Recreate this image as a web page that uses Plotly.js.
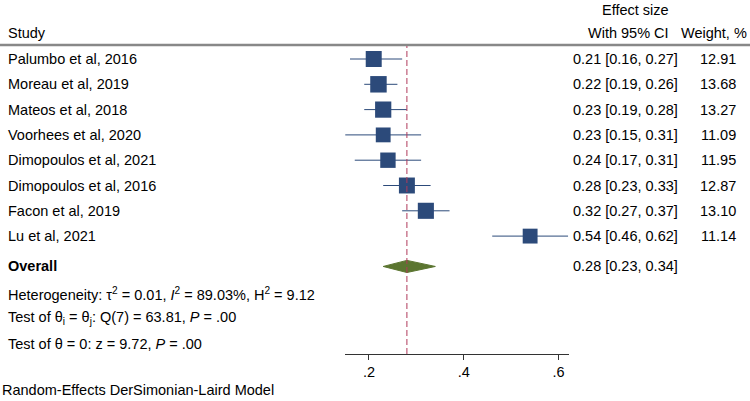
<!DOCTYPE html>
<html>
<head>
<meta charset="utf-8">
<script src="https://cdn.plot.ly/plotly-3.0.1.min.js"></script>
<style>html,body{margin:0;padding:0;background:#fff;}#chart{width:750px;height:401px;}</style>
</head>
<body>
<div id="chart"></div>
<script>
// ---- data ----
const studies = ["Palumbo et al, 2016","Moreau et al, 2019","Mateos et al, 2018","Voorhees et al, 2020",
                 "Dimopoulos et al, 2021","Dimopoulos et al, 2016","Facon et al, 2019","Lu et al, 2021"];
const effect = [0.21,0.22,0.23,0.23,0.24,0.28,0.32,0.54];
const ciLow  = [0.16,0.19,0.19,0.15,0.17,0.23,0.27,0.46];
const ciHigh = [0.27,0.26,0.28,0.31,0.31,0.33,0.37,0.62];
const weight = [12.91,13.68,13.27,11.09,11.95,12.87,13.10,11.14];
const overall = {est:0.28, low:0.23, high:0.34};
const tickVals = [0.2,0.4,0.6];
const tickText = [".2",".4",".6"];
const hetText = "Heterogeneity: τ<sup>2</sup> = 0.01, <i>I</i><sup>2</sup> = 89.03%, H<sup>2</sup> = 9.12";
const testQ = "Test of θ<sub>i</sub> = θ<sub>j</sub>: Q(7) = 63.81, <i>P</i> = .00";
const testZ = "Test of θ = 0: z = 9.72, <i>P</i> = .00";
const footer = "Random-Effects DerSimonian-Laird Model";

// ---- styling ----
const FONT = "Liberation Sans, Arial, Helvetica, sans-serif";
const FS = 14.5;
const NAVY = "#2c4a7a";
const GREEN = "#5b7530";
const RED = "#b03a5b";
const rowY = studies.map((s,i)=>i);
const overallY = 8.2;

const traces = [];
// CI lines
studies.forEach((s,i)=>{
  traces.push({x:[ciLow[i],ciHigh[i]], y:[rowY[i],rowY[i]], mode:"lines",
    line:{color:NAVY,width:1}, hoverinfo:"skip", showlegend:false, cliponaxis:false});
});
// squares
traces.push({x:effect, y:rowY, mode:"markers", type:"scatter",
  marker:{symbol:"square", color:NAVY, opacity:1, size:weight.map(w=>4.45*Math.sqrt(w)), line:{width:0}},
  showlegend:false, cliponaxis:false});
// diamond
const dh = 0.24;
traces.push({x:[overall.low, overall.est, overall.high, overall.est, overall.low],
  y:[overallY, overallY-dh, overallY, overallY+dh, overallY],
  mode:"lines", fill:"toself", fillcolor:GREEN, line:{color:GREEN,width:1}, showlegend:false, cliponaxis:false});

const ann = [];
function add(text,xpx,y,anchor,extra){
  ann.push(Object.assign({text:text, x:xpx/750, xref:"paper", y:y, yref:"y", xanchor:anchor, yanchor:"middle",
    showarrow:false, font:{family:FONT,size:FS,color:"#000"}}, extra||{}));
}
studies.forEach((s,i)=>{
  add(s,6,rowY[i],"left");
  add(effect[i].toFixed(2)+" ["+ciLow[i].toFixed(2)+", "+ciHigh[i].toFixed(2)+"]",571,rowY[i],"left");
  add(weight[i].toFixed(2),738,rowY[i],"right");
});
add("<b>Overall</b>",6,overallY,"left");
add(overall.est.toFixed(2)+" ["+overall.low.toFixed(2)+", "+overall.high.toFixed(2)+"]",571,overallY,"left");
add(hetText,6,9.3,"left");
add(testQ,6,10.25,"left");
add(testZ,6,11.25,"left");
// headers
add("Study",6,-1.03,"left");
add("Effect size",671,-1.94,"right");
add("With 95% CI",671,-1.03,"right");
add("Weight, %",749,-1.03,"right");
// footer
ann.push({text:footer, x:0, xref:"paper", y:-0.1017, yref:"paper", xanchor:"left", yanchor:"middle",
  showarrow:false, font:{family:FONT,size:FS,color:"#000"}});

const layout = {
  width:750, height:401,
  margin:{l:0,r:0,t:0,b:47,pad:0},
  paper_bgcolor:"#fff", plot_bgcolor:"#fff",
  font:{family:FONT,size:FS,color:"#000"},
  xaxis:{domain:[345/750,569/750], range:[0.1494,0.622], tickvals:tickVals, ticktext:tickText,
    showline:true, linecolor:"#333", linewidth:1, ticks:"outside", ticklen:5, tickcolor:"#333",
    showgrid:false, zeroline:false, tickfont:{family:FONT,size:FS,color:"#000"}, fixedrange:true},
  yaxis:{range:[11.66,-2.332], showgrid:false, zeroline:false, showticklabels:false, showline:false, fixedrange:true},
  shapes:[
    {type:"line", xref:"paper", yref:"y", x0:0, x1:1, y0:-0.553, y1:-0.553, line:{color:"#888",width:2.5}},
    {type:"line", xref:"x", yref:"paper", x0:overall.est, x1:overall.est, y0:0, y1:0.87, line:{color:RED,width:1,dash:"6px,3px"}}
  ],
  annotations:ann,
  showlegend:false
};
Plotly.newPlot("chart", traces, layout, {staticPlot:true});
</script>
</body>
</html>
